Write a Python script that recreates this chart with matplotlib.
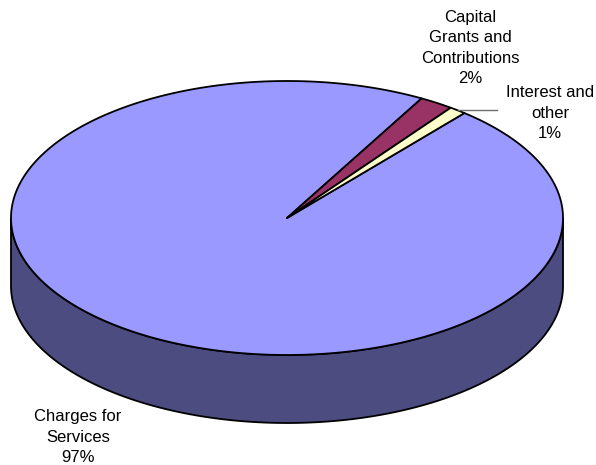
import numpy as np
import matplotlib.pyplot as plt
from matplotlib.patches import Polygon

plt.rcParams["font.family"] = ["Liberation Sans", "DejaVu Sans"]

categories = ["Charges for\nServices", "Capital\nGrants and\nContributions", "Interest and\nother"]
shares = [97, 2, 1]
top_colors = ["#9999ff", "#993366", "#ffffcc"]
side_colors = ["#4c4c80", "#4d1a33", "#808066"]
label_pos = [(78, 437), (470, 48), (550, 113)]

# pie geometry (pixel space)
cx, cy, rx, ry, depth = 287, 218, 276, 137, 68
start_angle = 50.0


def rim(t, dy=0.0):
    t = np.radians(t)
    return np.column_stack([cx + rx * np.cos(t), cy - ry * np.sin(t) + dy])


fig = plt.figure(figsize=(5.96, 4.65), dpi=100)
ax = fig.add_axes([0, 0, 1, 1])
ax.set_xlim(0, 596)
ax.set_ylim(465, 0)
ax.axis("off")

# slice angles, clockwise from the start angle
spans = np.array(shares) / sum(shares) * 360.0
ends = start_angle - np.cumsum(spans)
starts = ends + spans

# side wall: only the front half (180..360 deg) is visible
for s, e, col in zip(starts, ends, side_colors):
    a0, a1 = e, s
    while a1 > 360:
        a0 -= 360
        a1 -= 360
    while a1 < 180:
        a0 += 360
        a1 += 360
    for off in (0, -360, 360):
        b0 = max(a0 + off, 180)
        b1 = min(a1 + off, 360)
        if b1 > b0:
            t = np.linspace(b0, b1, 200)
            pts = np.vstack([rim(t), rim(t[::-1], depth)])
            ax.add_patch(Polygon(pts, closed=True, facecolor=col,
                                 edgecolor="black", lw=1.3, zorder=1))

# top face wedges
for s, e, col in zip(starts, ends, top_colors):
    t = np.linspace(s, e, max(int(abs(s - e) * 3), 10))
    pts = np.vstack([[cx, cy], rim(t)])
    ax.add_patch(Polygon(pts, closed=True, facecolor=col,
                         edgecolor="black", lw=1.3, joinstyle="round", zorder=2))

# leader line for the small slice
mid = (starts[2] + ends[2]) / 2
p = rim(np.array([mid]))[0]
ax.plot([p[0], 497], [p[1], p[1]], color="#707070", lw=1, zorder=3)

for name, share, (x, y) in zip(categories, shares, label_pos):
    ax.text(x, y, f"{name}\n{share}%", ha="center", va="center",
            fontsize=12, linespacing=1.45, color="black")

fig.savefig("out.png", dpi=100)
